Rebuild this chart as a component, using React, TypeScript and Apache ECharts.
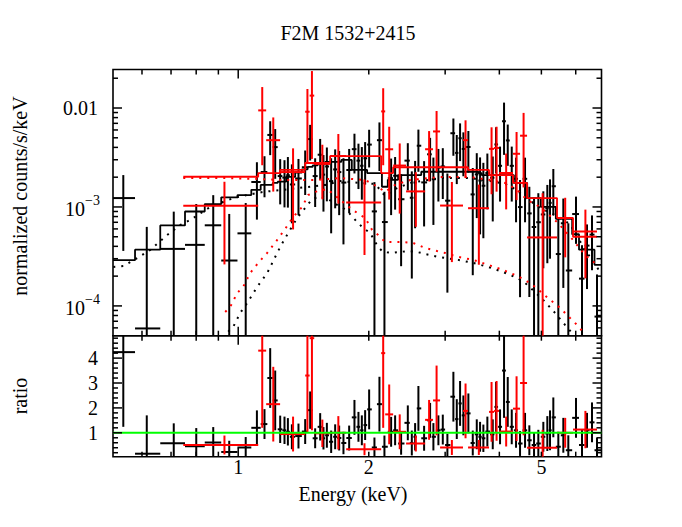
import React, { useEffect, useRef } from 'react';
import * as echarts from 'echarts';

// ---------- axis ranges ----------
const X_MIN = 0.5144;
const X_MAX = 6.88;
const Y_MIN = 5.0e-5;
const Y_MAX = 0.0245;
const R_MIN = 0.04;
const R_MAX = 4.9;

// ---------- black spectrum (bin centre keV, folded model, data/model ratio, ratio error) ----------
const blackE = [
  0.5433, 0.6154, 0.7102, 0.8003, 0.8758, 0.9534, 1.0406,
  1.1043, 1.1497, 1.185, 1.2169, 1.2496, 1.2785, 1.3017, 1.3296, 1.377, 1.4269,
  1.4652, 1.5045, 1.5451, 1.5723, 1.601, 1.6379, 1.6731, 1.709, 1.7484, 1.8021,
  1.8535, 1.8933, 1.9277, 1.9617, 2.0038, 2.061, 2.1164, 2.1733, 2.2518, 2.3001,
  2.3745, 2.4605, 2.5133, 2.5577, 2.6028, 2.6827, 2.7695, 2.8184, 2.8942, 2.9626,
  3.0357, 3.1339, 3.1909, 3.2473, 3.3046, 3.3935, 3.4736, 3.5482, 3.6108, 3.6746,
  3.7534, 3.8625, 3.9307, 4.0149, 4.1011, 4.1824, 4.2722, 4.3707, 4.4644, 4.5846,
  4.6904, 4.8089, 4.9198, 5.0521, 5.1605, 5.235, 5.3274, 5.4706, 5.6177, 5.7687,
  6.0093, 6.2036, 6.3704, 6.5417, 6.7176,
];
const blackModel = [
  0.00029, 0.00037, 0.00065, 0.0009, 0.00107, 0.00125, 0.00132,
  0.00149, 0.00167, 0.00167, 0.00175, 0.0018, 0.0018, 0.00201, 0.00201, 0.00223, 0.0024,
  0.00254, 0.00263, 0.00272, 0.00272, 0.00285, 0.00285, 0.00285, 0.00285, 0.00299, 0.00299,
  0.00237, 0.00237, 0.00237, 0.00237, 0.0022, 0.0022, 0.0022, 0.0016, 0.00188, 0.00188,
  0.0021, 0.0021, 0.0021, 0.0021, 0.0021, 0.00227, 0.00227, 0.00227, 0.00227, 0.00227,
  0.00227, 0.00227, 0.00227, 0.00227, 0.00227, 0.00227, 0.00227, 0.00227, 0.0022, 0.0021,
  0.0021, 0.0021, 0.0021, 0.0021, 0.0021, 0.0021, 0.0021, 0.00175, 0.00175, 0.00175,
  0.00123, 0.00123, 0.00123, 0.001, 0.001, 0.001, 0.001, 0.00076, 0.00076, 0.00076,
  0.00053, 0.00037, 0.00037, 0.00037, 0.00026,
];
const blackRatio = [
  4.24, 0.16, 0.58, 0.46, 0.61, 0.23, 0.41,
  1.2, 1.35, 3.2, 2.3, 1.14, 1.1, 1.04, 0.84, 0.87, 1.05,
  1.91, 0.78, 1.24, 0.78, 0.9, 0.64, 0.84, 0.79, 0.59, 0.79,
  1.62, 1.24, 1.1, 1.31, 1.94, 0.41, 2.15, 0.44, 1.04, 1.1,
  0.57, 1.4, 0.59, 0.84, 1.98, 0.78, 1.5, 0.84, 1.1, 1.13,
  0.51, 2.45, 1.55, 2.18, 1.7, 1.78, 0.59, 0.94, 0.84, 0.78,
  1.05, 0.94, 2.04, 1.24, 3.5, 2.24, 1.24, 1.1, 0.57, 1.1,
  0.7, 0.51, 0.57, 0.84, 0.97, 1.1, 1.62, 0.44, 0.9, 0.3,
  1.6, 0.51, 1.1, 1.42, 0.3,
];
const blackRatioErr = [
  3.0, 1.54, 0.8, 0.73, 0.62, 0.45, 0.42,
  0.7, 0.6, 1.2, 1.2, 0.55, 0.55, 0.55, 0.5, 0.5, 0.5,
  0.75, 0.4, 0.55, 0.45, 0.5, 0.45, 0.5, 0.5, 0.45, 0.5,
  0.7, 0.6, 0.6, 0.6, 0.8, 0.4, 1.1, 0.45, 0.6, 0.6,
  0.45, 0.7, 0.5, 0.55, 0.9, 0.5, 0.7, 0.55, 0.6, 0.6,
  0.45, 1.0, 0.8, 0.9, 0.8, 0.8, 0.5, 0.6, 0.6, 0.55,
  0.6, 0.6, 1.0, 0.7, 1.9, 1.0, 0.7, 0.7, 0.5, 0.7,
  0.6, 0.5, 0.55, 0.6, 0.7, 0.8, 0.8, 0.6, 0.7, 0.6,
  0.8, 0.6, 0.7, 0.8, 0.5,
];

// ---------- red spectrum (bin edges keV, folded model, ratio, ratio error) ----------
const redEdges = [
  0.747, 1.112, 1.16, 1.249, 1.427, 1.461, 1.497, 1.629, 1.774, 2.136, 2.182, 2.276, 2.438,
  2.697, 2.813, 2.92, 3.298, 3.388, 3.787, 3.889, 3.994, 4.301, 4.465, 4.634, 5.433, 5.915, 6.718,
];
const redModel = [
  0.00202, 0.0022, 0.0022, 0.00237, 0.00278, 0.00278, 0.00278, 0.00327, 0.00327, 0.0022, 0.0022,
  0.00252, 0.00252, 0.00252, 0.00252, 0.00252, 0.00252, 0.00237, 0.0021, 0.0021, 0.0021,
  0.00175, 0.00175, 0.00123, 0.000774, 0.0005,
];
const redRatio = [
  0.51, 4.3, 2.15, 0.95, 3.3, 4.8, 0.98, 1.0, 0.34, 4.2, 1.74, 1.04, 0.57, 1.52, 2.3, 0.41,
  1.88, 0.41, 1.84, 1.88, 1.05, 1.97, 3.0, 0.4, 1.0, 1.13,
];
const redRatioErr = [
  0.38, 3.1, 1.5, 0.7, 2.3, 3.7, 0.55, 0.67, 0.24, 3.0, 1.2, 0.7, 0.32, 0.8, 1.4, 0.3,
  1.1, 0.3, 1.2, 1.2, 0.6, 1.3, 2.1, 0.72, 0.6, 0.75,
];

// ---------- model components (dotted) [keV, counts/s/keV] ----------
const blackCompA = [
  [0.5152, 0.000248], [0.5433, 0.000253], [0.5852, 0.000305], [0.627, 0.000368], [0.6861, 0.000521],
  [0.7351, 0.000658], [0.7751, 0.000739], [0.8619, 0.001], [0.9738, 0.00123], [1.0489, 0.00132],
  [1.1418, 0.00142], [1.2696, 0.00149], [1.4421, 0.00159], [1.5866, 0.00167], [1.7181, 0.00183],
  [1.9104, 0.00175], [2.0686, 0.00171], [2.1812, 0.00129], [2.3001, 0.00152], [2.4905, 0.00175],
  [2.9203, 0.00196], [3.4244, 0.00196], [3.8077, 0.00183], [4.1232, 0.00171], [4.3475, 0.00152],
  [4.5846, 0.00126], [4.9646, 0.000977], [5.3754, 0.00083], [5.8205, 0.000673], [6.3031, 0.000368],
  [6.6466, 0.000266], [6.8251, 0.00022],
];
const blackCompB = [
  [0.9483, 0.000055], [0.9738, 0.0000614], [1.0107, 0.000085], [1.0489, 0.000107], [1.1061, 0.000156],
  [1.1664, 0.000215], [1.2496, 0.000394], [1.3038, 0.000546], [1.3675, 0.000774], [1.4269, 0.000977],
  [1.4809, 0.0012], [1.5451, 0.00129], [1.6121, 0.0012], [1.6909, 0.00105], [1.7457, 0.000977],
  [1.7925, 0.00089], [1.8802, 0.000705], [1.941, 0.000614], [2.0144, 0.000546], [2.0686, 0.000443],
  [2.1017, 0.000394], [2.1582, 0.000351], [2.2636, 0.000343], [2.3619, 0.000351], [2.4644, 0.000359],
  [2.5849, 0.000351], [2.6969, 0.000335], [2.8743, 0.000315], [2.9988, 0.000305], [3.2131, 0.000292],
  [3.4793, 0.000272], [3.7676, 0.000248], [4.0797, 0.00022], [4.3939, 0.000192], [4.5846, 0.000171],
  [4.8343, 0.000138], [5.0978, 0.00011], [5.3754, 0.000085], [5.668, 0.0000643], [5.8825, 0.0000534],
];
const redCompA = [
  [0.747, 0.00196], [0.9333, 0.00196], [1.1061, 0.00192], [1.2696, 0.00187], [1.5045, 0.00187],
  [1.7181, 0.00196], [1.9617, 0.00187], [2.1017, 0.00159], [2.1812, 0.00142], [2.3001, 0.00167],
  [2.4905, 0.00187], [2.9203, 0.00201], [3.4244, 0.00201], [3.8077, 0.00187], [4.1232, 0.00175],
  [4.3939, 0.00149], [4.6335, 0.00118], [4.9646, 0.001], [5.4327, 0.000705], [5.914, 0.000464],
  [6.3031, 0.000327], [6.7176, 0.00026],
];
const redCompB = [
  [0.9333, 0.0000869], [0.9584, 0.0000977], [0.9947, 0.000135], [1.0269, 0.000156], [1.0657, 0.000215],
  [1.1119, 0.000272], [1.1664, 0.000343], [1.2299, 0.000464], [1.2969, 0.000643], [1.3389, 0.000792],
  [1.4043, 0.001], [1.4498, 0.00132], [1.5045, 0.00142], [1.6035, 0.00152], [1.7181, 0.00118],
  [1.8117, 0.000977], [1.8802, 0.00087], [1.9617, 0.000774], [2.0359, 0.000586], [2.1017, 0.000521],
  [2.1812, 0.000443], [2.2757, 0.000443], [2.3871, 0.000443], [2.5307, 0.000433], [2.6969, 0.000385],
  [2.8743, 0.000359], [2.9988, 0.000343], [3.2131, 0.000313], [3.4793, 0.000292], [3.7676, 0.00026],
  [4.0797, 0.000231], [4.3939, 0.000201], [4.5846, 0.000183], [4.8343, 0.000156], [5.1796, 0.00012],
  [5.52, 0.0000955], [5.8205, 0.0000756], [6.1383, 0.0000599], [6.2697, 0.0000519],
];

// ---------- ticks and labels ----------
const xMajorTicks = [1];
const xMinorTicks = [0.6, 0.7, 0.8, 0.9, 2, 3, 4, 5, 6];
const xTickLabelValues = [1, 2, 5];
const xTickLabels = ['1', '2', '5'];
const yTopMajorTicks = [1e-4, 1e-3, 1e-2];
const yTopMinorTicks = [
  6e-5, 7e-5, 8e-5, 9e-5, 2e-4, 3e-4, 4e-4, 5e-4, 6e-4, 7e-4, 8e-4, 9e-4,
  2e-3, 3e-3, 4e-3, 5e-3, 6e-3, 7e-3, 8e-3, 9e-3, 2e-2,
];
const yTopLabelValues = [1e-2, 1e-3, 1e-4];
const yTopLabelBase = ['0.01', '10', '10'];
const yTopLabelExp = ['', '\u22123', '\u22124'];
const ratioMajorTicks = [1, 2, 3, 4];
const ratioMinorTicks = [
  0.2, 0.4, 0.6, 0.8, 1.2, 1.4, 1.6, 1.8, 2.2, 2.4, 2.6, 2.8, 3.2, 3.4, 3.6, 3.8, 4.2, 4.4, 4.6, 4.8,
];
const ratioTickLabels = ['1', '2', '3', '4'];

const FONT = '"Liberation Serif", "Times New Roman", serif';
const MAJOR_LEN = 9;
const MINOR_LEN = 5;

function blackEdges(): number[] {
  const e = [X_MIN];
  for (let i = 0; i < blackE.length - 1; i++) e.push(Math.sqrt(blackE[i] * blackE[i + 1]));
  e.push(X_MAX);
  return e;
}

function crossRenderer(color: string, logY: boolean) {
  return (params: any, api: any) => {
    const cs = params.coordSys;
    const L = cs.x, R = cs.x + cs.width, T = cs.y, B = cs.y + cs.height;
    const safe = (v: number) => (logY ? (v > 0 ? v : Y_MIN * 1e-3) : v);
    const xc = api.value(0), y = api.value(1);
    const xl = api.value(2), xh = api.value(3);
    const yl = api.value(4), yh = api.value(5);
    const p = api.coord([xc, safe(y)]);
    const pl = Math.max(L, api.coord([xl, safe(y)])[0]);
    const ph = Math.min(R, api.coord([xh, safe(y)])[0]);
    const a = Math.min(B, Math.max(T, api.coord([xc, safe(yl)])[1]));
    const b = Math.min(B, Math.max(T, api.coord([xc, safe(yh)])[1]));
    const children: any[] = [];
    if (p[1] >= T && p[1] <= B) {
      children.push({ type: 'line', shape: { x1: pl, y1: p[1], x2: ph, y2: p[1] }, style: { stroke: color, lineWidth: 2 } });
    }
    if (a - b > 0.3 && p[0] >= L && p[0] <= R) {
      children.push({ type: 'line', shape: { x1: p[0], y1: a, x2: p[0], y2: b }, style: { stroke: color, lineWidth: 2 } });
    }
    return { type: 'group', children };
  };
}

const tickRenderer = (params: any, api: any) => {
  const cs = params.coordSys;
  const L = cs.x, R = cs.x + cs.width, T = cs.y, B = cs.y + cs.height;
  const len = api.value(2);
  const kind = api.value(3);
  const p = api.coord([api.value(0), api.value(1)]);
  const st = { stroke: '#000', lineWidth: 1.5 };
  if (kind === 0) {
    return {
      type: 'group',
      children: [
        { type: 'line', shape: { x1: p[0], y1: T, x2: p[0], y2: T + len }, style: st },
        { type: 'line', shape: { x1: p[0], y1: B, x2: p[0], y2: B - len }, style: st },
      ],
    };
  }
  return {
    type: 'group',
    children: [
      { type: 'line', shape: { x1: L, y1: p[1], x2: L + len, y2: p[1] }, style: st },
      { type: 'line', shape: { x1: R, y1: p[1], x2: R - len, y2: p[1] }, style: st },
    ],
  };
};

function stepData(lo: number[], hi: number[], m: number[]) {
  const out: number[][] = [];
  for (let i = 0; i < m.length; i++) {
    out.push([lo[i], m[i]]);
    out.push([hi[i], m[i]]);
  }
  return out;
}

export default function App() {
  const ref = useRef<HTMLDivElement>(null);

  useEffect(() => {
    if (!ref.current) return;
    const chart = echarts.init(ref.current, undefined, { renderer: 'svg' });

    const bEdges = blackEdges();
    const bLo = bEdges.slice(0, -1);
    const bHi = bEdges.slice(1);
    const rLo = redEdges.slice(0, -1);
    const rHi = redEdges.slice(1);
    const rC = rLo.map((l, i) => (l + rHi[i]) / 2);

    const blackTop = blackE.map((c, i) => {
      const y = blackRatio[i] * blackModel[i];
      const s = blackRatioErr[i] * blackModel[i];
      return [c, y, bLo[i], bHi[i], y - s, y + s];
    });
    const blackBot = blackE.map((c, i) => [c, blackRatio[i], bLo[i], bHi[i], blackRatio[i] - blackRatioErr[i], blackRatio[i] + blackRatioErr[i]]);
    const redTop = rC.map((c, i) => {
      const y = redRatio[i] * redModel[i];
      const s = redRatioErr[i] * redModel[i];
      return [c, y, rLo[i], rHi[i], y - s, y + s];
    });
    const redBot = rC.map((c, i) => [c, redRatio[i], rLo[i], rHi[i], redRatio[i] - redRatioErr[i], redRatio[i] + redRatioErr[i]]);

    const topTicks = [
      ...xMajorTicks.map((v) => [v, 1e-3, MAJOR_LEN, 0]),
      ...xMinorTicks.map((v) => [v, 1e-3, MINOR_LEN, 0]),
      ...yTopMajorTicks.map((v) => [X_MIN, v, MAJOR_LEN, 1]),
      ...yTopMinorTicks.map((v) => [X_MIN, v, MINOR_LEN, 1]),
    ];
    const botTicks = [
      ...xMajorTicks.map((v) => [v, 1, MAJOR_LEN, 0]),
      ...xMinorTicks.map((v) => [v, 1, MINOR_LEN, 0]),
      ...ratioMajorTicks.map((v) => [X_MIN, v, MAJOR_LEN, 1]),
      ...ratioMinorTicks.map((v) => [X_MIN, v, MINOR_LEN, 1]),
    ];

    const textStyle = (text: string, size: number, align: string, vAlign: string) => ({
      text, fill: '#000', fontSize: size, fontFamily: FONT, align, verticalAlign: vAlign,
    });

    const hidden = {
      axisLine: { show: false }, axisTick: { show: false }, axisLabel: { show: false }, splitLine: { show: false },
    };

    const dotted = (name: string, data: number[][], color: string, z: number) => ({
      name, type: 'line', xAxisIndex: 0, yAxisIndex: 0, data, symbol: 'none', silent: true, z,
      lineStyle: { color, width: 2, type: [2, 6] },
    });

    const option: any = {
      animation: false,
      backgroundColor: '#fff',
      grid: [
        { left: 113, top: 69.5, width: 488.5, height: 266.2, show: true, borderColor: '#000', borderWidth: 1.6 },
        { left: 113, top: 335.7, width: 488.5, height: 121, show: true, borderColor: '#000', borderWidth: 1.6 },
      ],
      xAxis: [
        { type: 'log', logBase: 10, gridIndex: 0, min: X_MIN, max: X_MAX, ...hidden },
        { type: 'log', logBase: 10, gridIndex: 1, min: X_MIN, max: X_MAX, ...hidden },
      ],
      yAxis: [
        { type: 'log', logBase: 10, gridIndex: 0, min: Y_MIN, max: Y_MAX, ...hidden },
        { type: 'value', gridIndex: 1, min: R_MIN, max: R_MAX, ...hidden },
      ],
      graphic: [
        { type: 'text', x: 348, y: 33, style: textStyle('F2M 1532+2415', 20, 'center', 'middle') },
        { type: 'text', x: 353, y: 494, style: textStyle('Energy (keV)', 20, 'center', 'middle') },
        { type: 'text', x: 20, y: 196, rotation: Math.PI / 2, style: textStyle('normalized counts/s/keV', 20, 'center', 'middle') },
        { type: 'text', x: 20, y: 396, rotation: Math.PI / 2, style: textStyle('ratio', 20, 'center', 'middle') },
      ],
      series: [
        // ----- top panel -----
        {
          name: 'black data', type: 'custom', coordinateSystem: 'cartesian2d', xAxisIndex: 0, yAxisIndex: 0,
          encode: { x: 0, y: 1 }, data: blackTop, renderItem: crossRenderer('#000', true), silent: true, z: 2,
        },
        {
          name: 'black model', type: 'line', xAxisIndex: 0, yAxisIndex: 0, data: stepData(bLo, bHi, blackModel),
          symbol: 'none', silent: true, z: 3, lineStyle: { color: '#000', width: 1.8 },
        },
        dotted('black comp A', blackCompA, '#000', 3),
        dotted('black comp B', blackCompB, '#000', 3),
        {
          name: 'red data', type: 'custom', coordinateSystem: 'cartesian2d', xAxisIndex: 0, yAxisIndex: 0,
          encode: { x: 0, y: 1 }, data: redTop, renderItem: crossRenderer('#ff0000', true), silent: true, z: 4,
        },
        {
          name: 'red model', type: 'line', xAxisIndex: 0, yAxisIndex: 0, data: stepData(rLo, rHi, redModel),
          symbol: 'none', silent: true, z: 5, lineStyle: { color: '#ff0000', width: 1.8 },
        },
        dotted('red comp A', redCompA, '#ff0000', 5),
        dotted('red comp B', redCompB, '#ff0000', 5),
        {
          name: 'top ticks', type: 'custom', coordinateSystem: 'cartesian2d', xAxisIndex: 0, yAxisIndex: 0,
          encode: { x: 0, y: 1 }, data: topTicks, renderItem: tickRenderer, silent: true, z: 10,
        },
        {
          name: 'top y labels', type: 'custom', coordinateSystem: 'cartesian2d', xAxisIndex: 0, yAxisIndex: 0,
          encode: { x: 0, y: 1 }, data: yTopLabelValues.map((v, i) => [X_MIN, v, i]), silent: true, z: 10,
          renderItem: (params: any, api: any) => {
            const i = api.value(2);
            const p = api.coord([api.value(0), api.value(1)]);
            const x = params.coordSys.x;
            if (!yTopLabelExp[i]) {
              return { type: 'text', x: x - 15, y: p[1], style: textStyle(yTopLabelBase[i], 20, 'right', 'middle') };
            }
            return {
              type: 'group',
              children: [
                { type: 'text', x: x - 28, y: p[1] + 2, style: textStyle(yTopLabelBase[i], 20, 'right', 'middle') },
                { type: 'text', x: x - 28, y: p[1] - 6, style: textStyle(yTopLabelExp[i], 14, 'left', 'middle') },
              ],
            };
          },
        },
        // ----- ratio panel -----
        {
          name: 'black ratio', type: 'custom', coordinateSystem: 'cartesian2d', xAxisIndex: 1, yAxisIndex: 1,
          encode: { x: 0, y: 1 }, data: blackBot, renderItem: crossRenderer('#000', false), silent: true, z: 2,
        },
        {
          name: 'red ratio', type: 'custom', coordinateSystem: 'cartesian2d', xAxisIndex: 1, yAxisIndex: 1,
          encode: { x: 0, y: 1 }, data: redBot, renderItem: crossRenderer('#ff0000', false), silent: true, z: 4,
        },
        {
          name: 'unity', type: 'line', xAxisIndex: 1, yAxisIndex: 1, data: [[X_MIN, 1], [X_MAX, 1]],
          symbol: 'none', silent: true, z: 8, lineStyle: { color: '#00ff00', width: 2 },
        },
        {
          name: 'ratio ticks', type: 'custom', coordinateSystem: 'cartesian2d', xAxisIndex: 1, yAxisIndex: 1,
          encode: { x: 0, y: 1 }, data: botTicks, renderItem: tickRenderer, silent: true, z: 10,
        },
        {
          name: 'x labels', type: 'custom', coordinateSystem: 'cartesian2d', xAxisIndex: 1, yAxisIndex: 1,
          encode: { x: 0, y: 1 }, data: xTickLabelValues.map((v, i) => [v, 1, i]), silent: true, z: 10,
          renderItem: (params: any, api: any) => {
            const p = api.coord([api.value(0), api.value(1)]);
            const B = params.coordSys.y + params.coordSys.height;
            return { type: 'text', x: p[0], y: B + 10, style: textStyle(xTickLabels[api.value(2)], 20, 'center', 'middle') };
          },
        },
        {
          name: 'ratio labels', type: 'custom', coordinateSystem: 'cartesian2d', xAxisIndex: 1, yAxisIndex: 1,
          encode: { x: 0, y: 1 }, data: ratioMajorTicks.map((v, i) => [X_MIN, v, i]), silent: true, z: 10,
          renderItem: (params: any, api: any) => {
            const p = api.coord([api.value(0), api.value(1)]);
            return { type: 'text', x: params.coordSys.x - 15, y: p[1], style: textStyle(ratioTickLabels[api.value(2)], 20, 'right', 'middle') };
          },
        },
      ],
    };

    chart.setOption(option);
    return () => chart.dispose();
  }, []);

  return <div ref={ref} style={{ position: 'absolute', left: 0, top: 0, width: 682, height: 527 }} />;
}
